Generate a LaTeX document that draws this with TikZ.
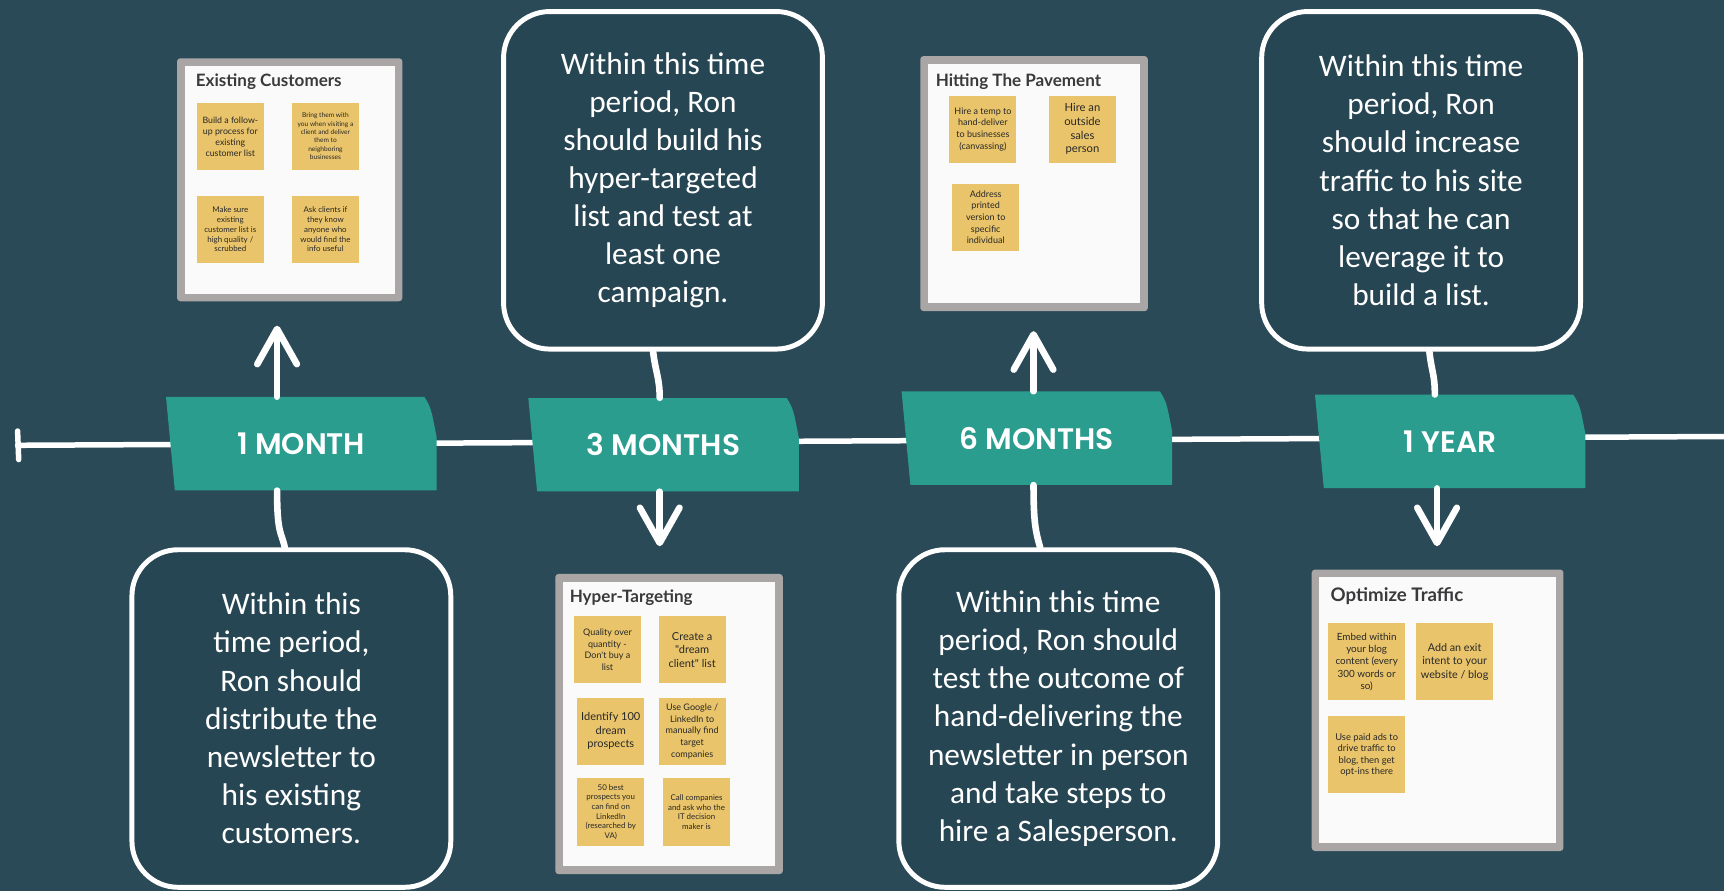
\documentclass[tikz,border=0pt]{standalone}
\usepackage{fontspec}
\usetikzlibrary{arrows.meta}
\newfontfamily\calfont{Carlito}
\newfontfamily\banfont{Poppins SemiBold}
\newfontfamily\cardfont{Lato}
\definecolor{bgcol}{RGB}{42,74,87}
\definecolor{callfill}{RGB}{39,70,83}
\definecolor{bancol}{RGB}{42,157,143}
\definecolor{stickcol}{RGB}{233,196,106}
\definecolor{framecol}{RGB}{170,166,166}
\definecolor{paper}{RGB}{250,250,250}
\definecolor{titlecol}{RGB}{58,58,60}
\definecolor{notetext}{RGB}{40,40,40}
\begin{document}
\begin{tikzpicture}[x=1pt,y=-1pt,
  banner/.style={minimum width=246pt, minimum height=85pt, inner sep=0pt, text=white,
    font=\banfont\fontsize{27}{27}\selectfont,
    path picture={\fill[bancol] (path picture bounding box.north west)
      -- ([xshift=-11pt]path picture bounding box.north east)
      .. controls ([xshift=-5pt,yshift=-10pt]path picture bounding box.north east) ..
      ([yshift=-36pt]path picture bounding box.north east)
      -- (path picture bounding box.south east)
      -- ([xshift=8pt]path picture bounding box.south west) -- cycle;}},
  card/.style={fill=framecol, rounded corners=3pt, inner sep=0pt,
    path picture={\fill[paper,sharp corners] ([shift={(7pt,-7pt)}]path picture bounding box.north west)
      rectangle ([shift={(-7pt,7pt)}]path picture bounding box.south east);}},
  ctitle/.style={anchor=base west, inner sep=0pt, text=titlecol,
    font=\cardfont\bfseries\fontsize{15.5}{18}\selectfont},
  note/.style={fill=stickcol, minimum size=61pt, inner sep=1pt, align=center, text=notetext},
  fs/.style 2 args={font=\cardfont\fontsize{#1}{#2}\selectfont},
  callout/.style={draw=white, line width=4.5pt, fill=callfill, rounded corners=42pt,
    minimum width=290pt, minimum height=307pt, text=white, align=center, inner sep=0pt,
    font=\calfont\fontsize{28.5}{34.7}\selectfont},
  conn/.style={draw=white, line width=6pt, line cap=round},
  arr/.style={conn, -{Straight Barb[length=32pt,width=36pt,round]}}
]
\useasboundingbox (0,0) rectangle (1568,810);
\fill[bgcol] (0,0) rectangle (1568,810);

% timeline axis
\coordinate (axL) at (16,405);
\coordinate (axR) at (1570,397);
\draw[conn, line width=5pt] (axL) -- (axR);
\draw[conn, line width=5pt] ([yshift=13pt]axL) -- ([yshift=-13pt,xshift=1pt]axL);

% banners
\node[banner] (m1) at (274,403.5) {1 MONTH};
\node[banner] (m2) at (603.5,404.5) {3 MONTHS};
\node[banner] (m3) at (943,398.5) {6 MONTHS};
\node[banner] (m4) at (1319,401.5) {1 YEAR};

% cards
\node[card, minimum width=205pt, minimum height=221pt] (c1) at (263.5,163.5) {};
\node[card, minimum width=207pt, minimum height=273pt] (c2) at (608.5,658.5) {};
\node[card, minimum width=207pt, minimum height=232pt] (c3) at (940.5,167) {};
\node[card, minimum width=229pt, minimum height=256pt] (c4) at (1307.5,646) {};

\node[ctitle] (t1) at (178,79) {Existing Customers};
\node[ctitle] (t2) at (518,548) {Hyper-Targeting};
\node[ctitle] (t3) at (851,79) {Hitting The Pavement};
\node[ctitle, font=\cardfont\bfseries\fontsize{17}{20}\selectfont] (t4) at (1210,547) {Optimize Traffic};

% notes: Existing Customers
\node[note, fs={8}{10}] (n11) at (209.5,124) {Build a follow-\\up process for\\existing\\customer list};
\node[note, fs={6}{7.6}] (n12) at (296,124) {Bring them with\\you when visiting a\\client and deliver\\them to\\neighboring\\businesses};
\node[note, fs={7.2}{9}] (n13) at (209.5,208.5) {Make sure\\existing\\customer list is\\high quality /\\scrubbed};
\node[note, fs={7.2}{9}] (n14) at (296,208.5) {Ask clients if\\they know\\anyone who\\would find the\\info useful};

% notes: Hyper-Targeting
\node[note, fs={8.2}{10.6}] (n21) at (552.5,591) {Quality over\\quantity -\\Don't buy a\\list};
\node[note, fs={10}{12.1}] (n22) at (629.5,591) {Create a\\"dream\\client" list};
\node[note, fs={10}{12.1}] (n23) at (555.5,665) {Identify 100\\dream\\prospects};
\node[note, fs={8.2}{10.6}] (n24) at (629.5,665) {Use Google /\\LinkedIn to\\manually find\\target\\companies};
\node[note, fs={7.2}{8.8}] (n25) at (555.5,738.5) {50 best\\prospects you\\can find on\\LinkedIn\\(researched by\\VA)};
\node[note, fs={7.2}{8.8}] (n26) at (633.5,738.5) {Call companies\\and ask who the\\IT decision\\maker is};

% notes: Hitting The Pavement
\node[note, fs={8.2}{10.6}] (n31) at (894,117.5) {Hire a temp to\\hand-deliver\\to businesses\\(canvassing)};
\node[note, fs={10.2}{12.4}] (n32) at (984.5,117.5) {Hire an\\outside\\sales\\person};
\node[note, fs={8.2}{10.6}] (n33) at (896.5,197.5) {Address\\printed\\version to\\specific\\individual};

% notes: Optimize Traffic
\node[note, minimum size=70pt, fs={9}{11.2}] (n41) at (1243,602) {Embed within\\your blog\\content (every\\300 words or\\so)};
\node[note, minimum size=70pt, fs={9.8}{12.1}] (n42) at (1323,602) {Add an exit\\intent to your\\website / blog};
\node[note, minimum size=70pt, fs={8.5}{10.3}] (n43) at (1243,686.5) {Use paid ads to\\drive traffic to\\blog, then get\\opt-ins there};

% callouts
\node[callout] (b1) at (265,653.5) {Within this\\time period,\\Ron should\\distribute the\\newsletter to\\his existing\\customers.};
\node[callout] (b2) at (603,164) {Within this time\\period, Ron\\should build his\\hyper-targeted\\list and test at\\least one\\campaign.};
\node[callout] (b3) at (962.5,653.5) {Within this time\\period, Ron should\\test the outcome of\\hand-delivering the\\newsletter in person\\and take steps to\\hire a Salesperson.};
\node[callout] (b4) at (1292.5,164) {Within this time\\period, Ron\\should increase\\traffic to his site\\so that he can\\leverage it to\\build a list.};

% connectors
\draw[arr] ([xshift=-22pt]m1.north) -- ([xshift=-11.5pt,yshift=-22pt]c1.south);
\draw[conn] ([xshift=-22pt]m1.south) .. controls +(0,40) and +(-3,-14) .. ([xshift=-6pt]b1.north);
\draw[conn] ([xshift=-9pt]b2.south) .. controls +(2,18) and +(0,-18) .. ([xshift=-3.5pt]m2.north);
\draw[arr] ([xshift=-3.5pt]m2.south) -- ([xshift=-8.5pt,yshift=25pt]c2.north);
\draw[arr] ([xshift=-3pt]m3.north) -- ([xshift=-0.5pt,yshift=-18pt]c3.south);
\draw[conn] ([xshift=-3pt]m3.south) .. controls +(0,35) and +(-4,-14) .. ([xshift=-16.5pt]b3.north);
\draw[conn] ([xshift=7.5pt]b4.south) .. controls +(2,18) and +(0,-18) .. ([xshift=-14pt]m4.north);
\draw[arr] ([xshift=-12pt]m4.south) -- ([xshift=-0.5pt,yshift=21pt]c4.north);
\end{tikzpicture}
\end{document}
